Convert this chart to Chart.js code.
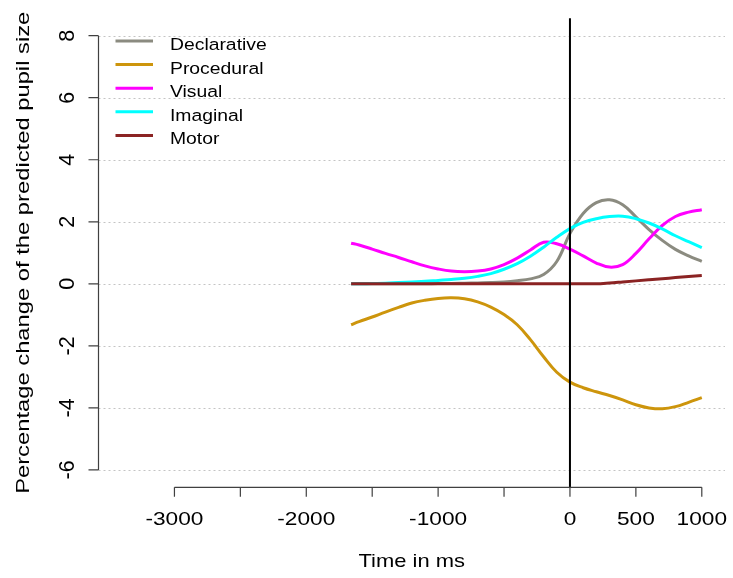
<!DOCTYPE html>
<html>
<head>
<meta charset="utf-8">
<title>Pupil size by module</title>
<script src="https://cdn.jsdelivr.net/npm/chart.js@4/dist/chart.umd.min.js"></script>
<style>
  html, body { margin: 0; padding: 0; background: #ffffff; }
  canvas { display: block; }
</style>
</head>
<body>
<canvas id="chart" width="733" height="578"></canvas>
<script>
// Time points (ms relative to the event)
const times = [-1660, -1600, -1500, -1400, -1300, -1200, -1100, -1000, -900, -800,
               -700, -600, -500, -400, -300, -200, -100, 0, 100, 200,
               300, 400, 500, 600, 700, 800, 900, 1000];

// Percentage change of predicted pupil size per module
const declarative = [0, 0, 0, 0, 0, 0, 0, 0.01, 0.01, 0.02,
                     0.03, 0.04, 0.06, 0.10, 0.16, 0.30, 0.72, 1.62, 2.27, 2.62,
                     2.71, 2.55, 2.16, 1.75, 1.40, 1.11, 0.90, 0.72];
const procedural  = [-1.32, -1.22, -1.07, -0.91, -0.76, -0.62, -0.53, -0.47, -0.45, -0.48,
                     -0.58, -0.75, -0.99, -1.32, -1.80, -2.35, -2.85, -3.17, -3.35, -3.48,
                     -3.60, -3.74, -3.90, -4.00, -4.03, -3.96, -3.82, -3.67];
const visual      = [1.31, 1.25, 1.12, 0.98, 0.85, 0.71, 0.58, 0.48, 0.41, 0.39,
                     0.41, 0.48, 0.62, 0.83, 1.09, 1.34, 1.29, 1.12, 0.90, 0.67,
                     0.54, 0.62, 0.98, 1.45, 1.88, 2.17, 2.31, 2.39];
const imaginal    = [0, 0, 0.01, 0.02, 0.04, 0.06, 0.08, 0.11, 0.14, 0.18,
                     0.24, 0.33, 0.47, 0.65, 0.89, 1.18, 1.50, 1.78, 1.98, 2.10,
                     2.17, 2.18, 2.10, 1.96, 1.77, 1.55, 1.36, 1.17];
const motor       = [0, 0, 0, 0, 0, 0, 0, 0, 0, 0,
                     0, 0, 0, 0, 0, 0, 0, 0, 0, 0,
                     0.025, 0.06, 0.095, 0.13, 0.165, 0.20, 0.235, 0.27];

const seriesNames  = ["Declarative", "Procedural", "Visual", "Imaginal", "Motor"];
const seriesValues = [declarative, procedural, visual, imaginal, motor];
const seriesColors = ["#8B8B80", "#CD950C", "#FF00FF", "#00FFFF", "#8B2323"];

// Axis ticks and labels
const yTicks   = [-6, -4, -2, 0, 2, 4, 6, 8];
const xTicks   = [-3000, -2500, -2000, -1500, -1000, -500, 0, 500, 1000];
const xLabels  = [-3000, -2000, -1000, 0, 500, 1000];
const eventTime = 0;

const xTitle = "Time in ms";
const yTitle = "Percentage change of the predicted pupil size";

const FONT = "'Liberation Sans', Arial, Helvetica, sans-serif";

// Text with independent stretch along / across the reading direction
function stretchedText(ctx, text, x, y, opt) {
  ctx.save();
  ctx.translate(x, y);
  if (opt.rotate) ctx.rotate(opt.rotate);
  ctx.scale(opt.along || 1, opt.across || 1);
  ctx.font = opt.size + "px " + FONT;
  ctx.fillStyle = "#000000";
  ctx.textAlign = opt.align || "center";
  ctx.textBaseline = "alphabetic";
  ctx.fillText(text, 0, 0);
  ctx.restore();
}

const baseGraphics = {
  id: "baseGraphics",
  beforeDatasetsDraw(chart) {
    const { ctx, chartArea: a, scales: { y } } = chart;
    ctx.save();
    ctx.strokeStyle = "#c4c4c4";
    ctx.lineWidth = 1;
    ctx.setLineDash([2, 3]);
    yTicks.forEach(v => {
      const py = Math.round(y.getPixelForValue(v)) + 0.5;
      ctx.beginPath();
      ctx.moveTo(a.left, py);
      ctx.lineTo(a.right, py);
      ctx.stroke();
    });
    ctx.restore();
  },
  afterDatasetsDraw(chart) {
    const { ctx, chartArea: a, scales: { x, y } } = chart;
    ctx.save();
    // vertical reference at the event
    const ex = x.getPixelForValue(eventTime);
    ctx.strokeStyle = "#000000";
    ctx.lineWidth = 2;
    ctx.beginPath();
    ctx.moveTo(ex, a.top);
    ctx.lineTo(ex, a.bottom);
    ctx.stroke();

    // y axis
    ctx.strokeStyle = "#404040";
    ctx.lineWidth = 1.2;
    const ax = a.left;
    ctx.beginPath();
    ctx.moveTo(ax, y.getPixelForValue(yTicks[0]));
    ctx.lineTo(ax, y.getPixelForValue(yTicks[yTicks.length - 1]));
    yTicks.forEach(v => {
      const py = y.getPixelForValue(v);
      ctx.moveTo(ax, py);
      ctx.lineTo(ax - 10, py);
    });
    ctx.stroke();
    yTicks.forEach(v => {
      stretchedText(ctx, String(v), 74, y.getPixelForValue(v),
        { size: 20, rotate: -Math.PI / 2, along: 1.075, across: 1.125 });
    });

    // x axis
    const ay = a.bottom;
    ctx.beginPath();
    ctx.moveTo(x.getPixelForValue(xTicks[0]), ay);
    ctx.lineTo(x.getPixelForValue(xTicks[xTicks.length - 1]), ay);
    xTicks.forEach(v => {
      const px = x.getPixelForValue(v);
      ctx.moveTo(px, ay);
      ctx.lineTo(px, ay + 9.5);
    });
    ctx.stroke();
    xLabels.forEach(v => {
      stretchedText(ctx, String(v), x.getPixelForValue(v), 525,
        { size: 18.6, along: 1.22 });
    });

    // axis titles
    stretchedText(ctx, xTitle, (a.left + a.right) / 2, 566.7,
      { size: 18.6, along: 1.18 });
    stretchedText(ctx, yTitle, 29, (a.top + a.bottom) / 2,
      { size: 18, rotate: -Math.PI / 2, along: 1.32, across: 1 });

    // legend
    seriesNames.forEach((name, i) => {
      const base = 50 + i * 23.6;
      const ly = base - 9;
      ctx.strokeStyle = seriesColors[i];
      ctx.lineWidth = 3;
      ctx.beginPath();
      ctx.moveTo(115.5, ly);
      ctx.lineTo(153, ly);
      ctx.stroke();
      stretchedText(ctx, name, 170, base, { size: 17.2, along: 1.125, align: "left" });
    });
    ctx.restore();
  }
};

const datasets = seriesNames.map((name, i) => ({
  label: name,
  data: times.map((t, k) => ({ x: t, y: seriesValues[i][k] })),
  borderColor: seriesColors[i],
  backgroundColor: seriesColors[i],
  borderWidth: 3,
  pointRadius: 0,
  fill: false,
  tension: 0.4,
  // the flat-then-rising motor trace must not dip below zero
  cubicInterpolationMode: name === "Motor" ? "monotone" : "default",
  order: seriesNames.length - i
}));

new Chart(document.getElementById("chart"), {
  type: "line",
  data: { datasets },
  options: {
    responsive: false,
    animation: false,
    devicePixelRatio: 1,
    layout: { padding: { left: 98.5, right: 8, top: 18.3, bottom: 90.7 } },
    scales: {
      x: { type: "linear", min: -3576, max: 1176, display: false },
      y: { type: "linear", min: -6.56, max: 8.56, display: false }
    },
    plugins: {
      legend: { display: false },
      tooltip: { enabled: false }
    }
  },
  plugins: [baseGraphics]
});
</script>
</body>
</html>
